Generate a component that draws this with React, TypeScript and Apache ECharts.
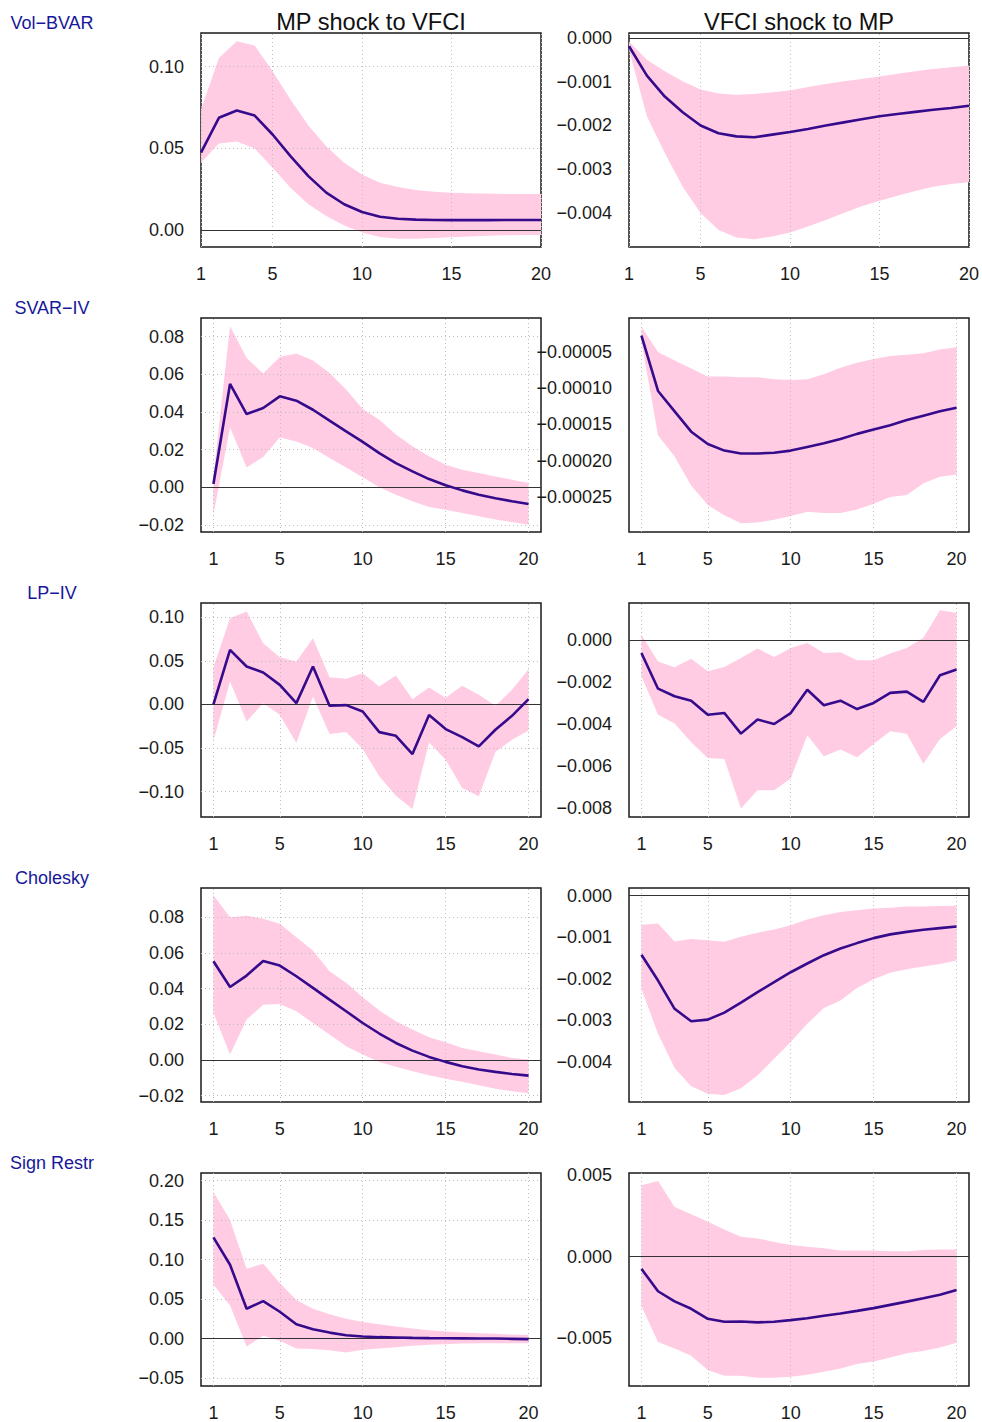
import React, { useEffect, useRef } from "react";
import * as echarts from "echarts";

const horizons = [1, 2, 3, 4, 5, 6, 7, 8, 9, 10, 11, 12, 13, 14, 15, 16, 17, 18, 19, 20];
const xTickValues = [1, 5, 10, 15, 20];

const columnTitles = ["MP shock to VFCI", "VFCI shock to MP"];
const rowLabels = ["Vol\u2212BVAR", "SVAR\u2212IV", "LP\u2212IV", "Cholesky", "Sign Restr"];

// Vol-BVAR
const volBvarMpMid = [0.0474, 0.0687, 0.0732, 0.0701, 0.0585, 0.0453, 0.0331, 0.023, 0.0159, 0.0112, 0.0083, 0.0071, 0.0065, 0.0063, 0.0062, 0.0062, 0.0062, 0.0063, 0.0063, 0.0063];
const volBvarMpHi = [0.0738, 0.1053, 0.1154, 0.1128, 0.0972, 0.0799, 0.064, 0.0514, 0.0413, 0.0341, 0.0291, 0.0264, 0.0246, 0.0236, 0.023, 0.0226, 0.0224, 0.0222, 0.0221, 0.0221];
const volBvarMpLo = [0.0413, 0.053, 0.0543, 0.05, 0.0382, 0.026, 0.0159, 0.0087, 0.003, -0.0014, -0.0041, -0.0051, -0.0051, -0.0047, -0.0043, -0.0038, -0.0034, -0.0031, -0.0029, -0.0028];
const volBvarVfciMid = [-0.00019, -0.00086, -0.00134, -0.0017, -0.002, -0.00218, -0.00225, -0.00227, -0.00221, -0.00215, -0.00208, -0.002, -0.00193, -0.00186, -0.00179, -0.00174, -0.00169, -0.00164, -0.0016, -0.00155];
const volBvarVfciHi = [-0.00008, -0.0005, -0.00076, -0.00099, -0.00118, -0.00127, -0.0013, -0.00128, -0.00124, -0.0012, -0.00112, -0.00105, -0.00099, -0.00094, -0.00088, -0.00082, -0.00076, -0.00071, -0.00067, -0.00063];
const volBvarVfciLo = [-0.00027, -0.00179, -0.00263, -0.0034, -0.004, -0.00439, -0.00456, -0.0046, -0.00454, -0.00445, -0.00431, -0.00416, -0.004, -0.00385, -0.00372, -0.00361, -0.0035, -0.0034, -0.00334, -0.0033];

// SVAR-IV
const svarIvMpMid = [0.0018, 0.0549, 0.0389, 0.0421, 0.0483, 0.046, 0.0412, 0.0354, 0.0297, 0.0241, 0.0182, 0.0129, 0.0085, 0.0044, 0.0011, -0.0016, -0.0039, -0.0058, -0.0074, -0.0088];
const svarIvMpHi = [0.006, 0.0855, 0.0687, 0.0604, 0.0692, 0.071, 0.0673, 0.0607, 0.0519, 0.0416, 0.0359, 0.028, 0.0218, 0.0165, 0.012, 0.0094, 0.0076, 0.0058, 0.0041, 0.0023];
const svarIvMpLo = [-0.0145, 0.0319, 0.0106, 0.0161, 0.0265, 0.0244, 0.0209, 0.0156, 0.0106, 0.0053, 0.0, -0.0039, -0.0074, -0.0104, -0.0119, -0.0136, -0.0154, -0.017, -0.0184, -0.0198];
const svarIvVfciMid = [-0.0000277, -0.000104, -0.000132, -0.00016, -0.000177, -0.000186, -0.00019, -0.00019, -0.000189, -0.000186, -0.000181, -0.000176, -0.00017, -0.000163, -0.000157, -0.000151, -0.000144, -0.000138, -0.000132, -0.000127];
const svarIvVfciHi = [-0.0000155, -0.0000505, -0.000062, -0.000073, -0.000084, -0.000084, -0.000085, -0.000085, -0.000088, -0.000089, -0.000088, -0.000081, -0.000072, -0.000065, -0.00006, -0.000056, -0.000054, -0.000052, -0.000047, -0.000044];
const svarIvVfciLo = [-0.000036, -0.000165, -0.000194, -0.000234, -0.000261, -0.000275, -0.000286, -0.000285, -0.000281, -0.000276, -0.00027, -0.000272, -0.000272, -0.000267, -0.000259, -0.00025, -0.000247, -0.000231, -0.000222, -0.000219];

// LP-IV
const lpIvMpMid = [0, 0.0626, 0.0435, 0.0366, 0.0225, 0.0015, 0.0435, -0.0015, -0.0008, -0.008, -0.0317, -0.0359, -0.0569, -0.0122, -0.0282, -0.0374, -0.0481, -0.029, -0.013, 0.0061];
const lpIvMpHi = [0.0427, 0.0989, 0.1065, 0.0702, 0.0542, 0.0492, 0.076, 0.0313, 0.0294, 0.0359, 0.0206, 0.0332, 0.0061, 0.0195, 0.0076, 0.0214, 0.0111, -0.0015, 0.0168, 0.0405];
const lpIvMpLo = [-0.0416, 0.0263, -0.0195, 0.0015, -0.0118, -0.0443, 0.0092, -0.034, -0.0317, -0.0511, -0.0824, -0.1046, -0.1198, -0.0435, -0.0634, -0.0958, -0.1053, -0.0546, -0.0405, -0.0298];
const lpIvVfciMid = [-0.00062, -0.00232, -0.00268, -0.00289, -0.00356, -0.00348, -0.00446, -0.00379, -0.004, -0.00348, -0.00237, -0.00311, -0.00289, -0.00329, -0.003, -0.00252, -0.00246, -0.00295, -0.00168, -0.00141];
const lpIvVfciHi = [0.00025, -0.00102, -0.0013, -0.00089, -0.00149, -0.00129, -0.00086, -0.00041, -0.00081, -0.00038, -0.00014, -0.00062, -0.00059, -0.00097, -0.00097, -0.00065, -0.00038, 0.0001, 0.00141, 0.00129];
const lpIvVfciLo = [-0.00173, -0.00356, -0.00398, -0.00487, -0.00562, -0.00567, -0.00803, -0.00716, -0.00716, -0.0066, -0.00454, -0.00554, -0.00522, -0.00559, -0.00495, -0.00435, -0.00446, -0.0059, -0.00471, -0.00411];

// Cholesky
const cholMpMid = [0.0553, 0.0409, 0.0473, 0.0555, 0.0529, 0.0469, 0.0404, 0.0338, 0.0273, 0.0207, 0.0148, 0.0095, 0.0052, 0.0017, -0.0011, -0.0036, -0.0054, -0.0067, -0.0079, -0.0088];
const cholMpHi = [0.0923, 0.08, 0.0809, 0.0791, 0.0764, 0.0688, 0.0613, 0.0497, 0.0432, 0.0351, 0.0277, 0.0217, 0.017, 0.0127, 0.0099, 0.0067, 0.0049, 0.003, 0.0011, 0.0002];
const cholMpLo = [0.0264, 0.003, 0.0226, 0.031, 0.0314, 0.0273, 0.0207, 0.0142, 0.0077, 0.003, -0.0011, -0.0039, -0.0064, -0.0086, -0.0105, -0.0123, -0.0142, -0.0161, -0.0176, -0.0187];
const cholVfciMid = [-0.00142, -0.00204, -0.00272, -0.00302, -0.00298, -0.00281, -0.00257, -0.00232, -0.00208, -0.00184, -0.00163, -0.00143, -0.00127, -0.00114, -0.00102, -0.00093, -0.00087, -0.00082, -0.00078, -0.00074];
const cholVfciHi = [-0.0007, -0.00067, -0.0011, -0.00104, -0.00107, -0.00111, -0.00099, -0.00089, -0.00081, -0.00071, -0.00057, -0.00047, -0.00039, -0.00035, -0.00031, -0.00029, -0.00026, -0.00026, -0.00025, -0.00024];
const cholVfciLo = [-0.00224, -0.00332, -0.00414, -0.00458, -0.00476, -0.00479, -0.00463, -0.00432, -0.00392, -0.00352, -0.00308, -0.0027, -0.00252, -0.00222, -0.00201, -0.00185, -0.00177, -0.0017, -0.00164, -0.00156];

// Sign restrictions
const signMpMid = [0.1281, 0.0934, 0.0377, 0.0473, 0.0339, 0.018, 0.0117, 0.0075, 0.0042, 0.0025, 0.0017, 0.0013, 0.0008, 0.0005, 0.0003, 0.0002, 0.0001, 0, -0.0004, -0.0008];
const signMpHi = [0.1855, 0.1499, 0.0884, 0.0946, 0.0704, 0.0486, 0.0377, 0.0306, 0.0251, 0.0209, 0.018, 0.0151, 0.0126, 0.0105, 0.0088, 0.0075, 0.0067, 0.0059, 0.005, 0.0046];
const signMpLo = [0.0683, 0.0419, -0.01, 0.0034, -0.0029, -0.0126, -0.0134, -0.0147, -0.0176, -0.0142, -0.0126, -0.0109, -0.0092, -0.008, -0.0071, -0.0063, -0.0059, -0.0059, -0.0059, -0.0059];
const signVfciMid = [-0.00076, -0.00214, -0.00276, -0.00322, -0.00384, -0.00402, -0.004, -0.00406, -0.00402, -0.00392, -0.0038, -0.00365, -0.00351, -0.00335, -0.00318, -0.00298, -0.00278, -0.00257, -0.00235, -0.00206];
const signVfciHi = [0.00439, 0.00465, 0.00306, 0.00261, 0.00214, 0.00167, 0.00122, 0.00112, 0.0009, 0.00071, 0.00061, 0.00051, 0.00037, 0.00037, 0.00037, 0.00033, 0.00033, 0.00041, 0.00043, 0.00043];
const signVfciLo = [-0.00306, -0.00527, -0.00567, -0.00612, -0.007, -0.00735, -0.00735, -0.00747, -0.00747, -0.00741, -0.00729, -0.0071, -0.0069, -0.00663, -0.00647, -0.00622, -0.00596, -0.00582, -0.00561, -0.00531];

// y tick labels per panel
const ticksVolBvarMp = [0, 0.05, 0.1];
const ticksVolBvarVfci = [-0.004, -0.003, -0.002, -0.001, 0];
const ticksSvarIvMp = [-0.02, 0, 0.02, 0.04, 0.06, 0.08];
const ticksSvarIvVfci = [-0.00025, -0.0002, -0.00015, -0.0001, -0.00005];
const ticksLpIvMp = [-0.1, -0.05, 0, 0.05, 0.1];
const ticksLpIvVfci = [-0.008, -0.006, -0.004, -0.002, 0];
const ticksCholMp = [-0.02, 0, 0.02, 0.04, 0.06, 0.08];
const ticksCholVfci = [-0.004, -0.003, -0.002, -0.001, 0];
const ticksSignMp = [-0.05, 0, 0.05, 0.1, 0.15, 0.2];
const ticksSignVfci = [-0.005, 0, 0.005];

type Panel = {
  mid: number[]; lo: number[]; hi: number[];
  yMin: number; yMax: number; ticks: number[]; dec: number;
  xMin: number; xMax: number;
};

const panels: Panel[] = [
  { mid: volBvarMpMid, lo: volBvarMpLo, hi: volBvarMpHi, yMin: -0.0102, yMax: 0.1205, ticks: ticksVolBvarMp, dec: 2, xMin: 1, xMax: 20 },
  { mid: volBvarVfciMid, lo: volBvarVfciLo, hi: volBvarVfciHi, yMin: -0.00478, yMax: 0.000114, ticks: ticksVolBvarVfci, dec: 3, xMin: 1, xMax: 20 },
  { mid: svarIvMpMid, lo: svarIvMpLo, hi: svarIvMpHi, yMin: -0.0237, yMax: 0.0899, ticks: ticksSvarIvMp, dec: 2, xMin: 0.25, xMax: 20.75 },
  { mid: svarIvVfciMid, lo: svarIvVfciLo, hi: svarIvVfciHi, yMin: -0.000298, yMax: -0.0000036, ticks: ticksSvarIvVfci, dec: 5, xMin: 0.25, xMax: 20.75 },
  { mid: lpIvMpMid, lo: lpIvMpLo, hi: lpIvMpHi, yMin: -0.129, yMax: 0.1163, ticks: ticksLpIvMp, dec: 2, xMin: 0.25, xMax: 20.75 },
  { mid: lpIvVfciMid, lo: lpIvVfciLo, hi: lpIvVfciHi, yMin: -0.00843, yMax: 0.00176, ticks: ticksLpIvVfci, dec: 3, xMin: 0.25, xMax: 20.75 },
  { mid: cholMpMid, lo: cholMpLo, hi: cholMpHi, yMin: -0.0236, yMax: 0.0964, ticks: ticksCholMp, dec: 2, xMin: 0.25, xMax: 20.75 },
  { mid: cholVfciMid, lo: cholVfciLo, hi: cholVfciHi, yMin: -0.00496, yMax: 0.000185, ticks: ticksCholVfci, dec: 3, xMin: 0.25, xMax: 20.75 },
  { mid: signMpMid, lo: signMpLo, hi: signMpHi, yMin: -0.0601, yMax: 0.2095, ticks: ticksSignMp, dec: 2, xMin: 0.25, xMax: 20.75 },
  { mid: signVfciMid, lo: signVfciLo, hi: signVfciHi, yMin: -0.00798, yMax: 0.00515, ticks: ticksSignVfci, dec: 3, xMin: 0.25, xMax: 20.75 },
];

const FONT = "'Liberation Sans', Arial, Helvetica, sans-serif";
const BAND = "#FFCCE4";
const LINE = "#350B8C";
const GRIDC = "#bdbdbd";

function fmt(v: number, dec: number): string {
  const s = Number(v).toFixed(dec);
  if (parseFloat(s) === 0) return s.replace("-", "");
  return s.startsWith("-") ? "\u2212" + s.slice(1) : s;
}

export default function App() {
  const ref = useRef<HTMLDivElement>(null);
  useEffect(() => {
    if (!ref.current) return;
    const chart = echarts.init(ref.current, undefined, { renderer: "svg" });
    const colLeft = [201, 629];
    const rowTop = [33, 318, 603, 888, 1173];
    const W = 340;
    const H = 214;

    const grids: any[] = [];
    const xAxes: any[] = [];
    const yAxes: any[] = [];
    const series: any[] = [];

    panels.forEach((p, i) => {
      const r = Math.floor(i / 2);
      const c = i % 2;
      grids.push({
        left: colLeft[c], top: rowTop[r], width: W, height: H,
        show: true, borderColor: "#1a1a1a", borderWidth: 1.5, backgroundColor: "transparent",
      });
      xAxes.push({
        gridIndex: i, type: "value", min: p.xMin, max: p.xMax,
        axisLine: { show: false }, axisTick: { show: false }, splitLine: { show: false },
        axisLabel: {
          customValues: xTickValues, margin: 18, color: "#1a1a1a", fontSize: 18, fontFamily: FONT,
          formatter: (v: number) => String(v),
        },
      });
      yAxes.push({
        gridIndex: i, type: "value", min: p.yMin, max: p.yMax,
        axisLine: { show: false }, axisTick: { show: false }, splitLine: { show: false },
        axisLabel: {
          customValues: p.ticks, margin: 17, color: "#1a1a1a", fontSize: 18, fontFamily: FONT,
          formatter: (v: number) => fmt(v, p.dec),
        },
      });
      const lo = p.lo;
      const hi = p.hi;
      series.push({
        type: "custom", xAxisIndex: i, yAxisIndex: i, silent: true, z: 1,
        data: horizons.map((h, k) => [h, lo[k], hi[k]]),
        encode: { x: 0, y: [1, 2] },
        renderItem: (params: any, api: any) => {
          if (params.dataIndex !== 0) return null;
          const pts: number[][] = [];
          for (let k = 0; k < horizons.length; k++) pts.push(api.coord([horizons[k], hi[k]]));
          for (let k = horizons.length - 1; k >= 0; k--) pts.push(api.coord([horizons[k], lo[k]]));
          return { type: "polygon", shape: { points: pts }, style: { fill: BAND } };
        },
      });
      const markData: any[] = [
        ...p.ticks.map((v) => ({ yAxis: v })),
        ...xTickValues.map((h) => ({ xAxis: h })),
      ];
      if (p.yMin < 0 && p.yMax > 0) {
        markData.push({ yAxis: 0, lineStyle: { type: "solid", color: "#333333", width: 1 } });
      }
      series.push({
        type: "line", xAxisIndex: i, yAxisIndex: i, z: 10, silent: true,
        data: horizons.map((h, k) => [h, p.mid[k]]),
        symbol: "none",
        lineStyle: { color: LINE, width: 2.6 },
        markLine: {
          silent: true, symbol: ["none", "none"], label: { show: false }, animation: false,
          lineStyle: { type: [1, 3], color: GRIDC, width: 1 },
          emphasis: { disabled: true },
          data: markData,
        },
      });
    });

    const graphics: any[] = [];
    columnTitles.forEach((t, c) => {
      graphics.push({
        type: "text", x: colLeft[c] + W / 2, y: 22,
        style: { text: t, fill: "#111", font: `23.6px ${FONT}`, align: "center", verticalAlign: "middle" },
      });
    });
    rowLabels.forEach((t, r) => {
      graphics.push({
        type: "text", x: 52, y: 23 + r * 285,
        style: { text: t, fill: "#17179a", font: `18px ${FONT}`, align: "center", verticalAlign: "middle" },
      });
    });

    chart.setOption({
      animation: false,
      backgroundColor: "#ffffff",
      grid: grids,
      xAxis: xAxes,
      yAxis: yAxes,
      series,
      graphic: graphics,
    });
    return () => chart.dispose();
  }, []);

  return (
    <div
      ref={ref}
      style={{ position: "absolute", left: 0, top: 0, width: 982, height: 1422 }}
    />
  );
}
